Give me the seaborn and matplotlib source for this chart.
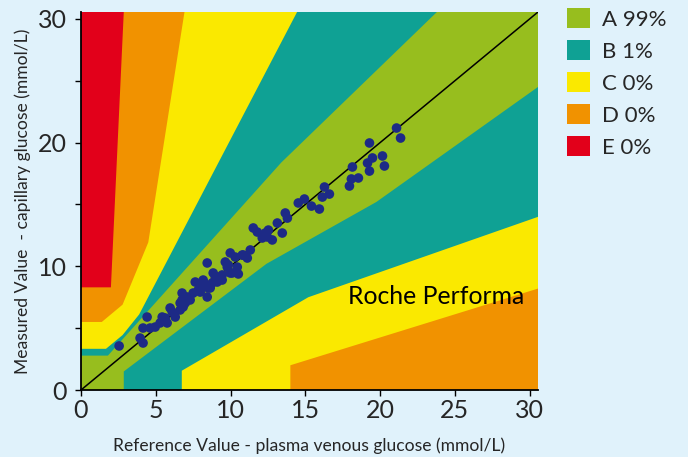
import numpy as np
import pandas as pd
import matplotlib
matplotlib.use("Agg")
import matplotlib.pyplot as plt
from matplotlib.patches import Patch
import seaborn as sns

# ---- data ----
LIM = 30.56  # axis maximum (mmol/L)

# zone boundaries (mmol/L); "None" y means top edge, "None" x means right edge
a_upper_x = [0, 1.8, 13.4, 23.8]
a_upper_y = [2.78, 2.78, 18.4, LIM]
a_lower_x = [2.86, 2.86, 12.4, 19.75, LIM]
a_lower_y = [0, 1.5, 10.2, 15.2, 24.5]
b_upper_x = [0, 1.67, 2.78, 3.89, 14.45]
b_upper_y = [3.33, 3.33, 4.44, 6.11, LIM]
b_lower_x = [6.74, 6.74, 15.2, LIM]
b_lower_y = [0, 1.56, 7.5, 14.0]
c_upper_x = [0, 1.39, 2.78, 4.5, 6.92]
c_upper_y = [5.5, 5.5, 6.9, 11.94, LIM]
c_lower_x = [14.0, 14.0, LIM]
c_lower_y = [0, 2.0, 8.2]
d_upper_x = [0, 2.0, 2.86]
d_upper_y = [8.3, 8.3, LIM]

zone_labels = ["A 99%", "B 1%", "C 0%", "D 0%", "E 0%"]
zone_colors = ["#97BE1E", "#0FA194", "#FAE900", "#F19200", "#E2001A"]

ref_values = [2.55, 3.95, 4.15, 4.15, 4.42, 4.62, 4.96, 5.29, 5.43, 5.63, 5.76, 6.10,
              6.30, 6.63, 6.76, 6.83, 6.97, 6.76, 7.10, 7.30, 7.64, 7.84, 8.10, 8.17,
              8.31, 8.44, 8.44, 8.64, 8.84, 9.11, 9.31, 9.44, 9.65, 9.78, 9.98, 9.98,
              10.31, 10.45, 10.52, 10.85, 11.12, 11.32, 11.52, 11.79, 12.12, 12.32,
              12.53, 12.46, 12.79, 13.13, 13.46, 13.66, 13.80, 14.53, 14.94, 15.41,
              15.94, 16.14, 16.28, 16.61, 17.95, 18.08, 18.55, 18.15, 19.16, 19.49,
              19.29, 19.29, 20.16, 20.29, 21.10, 21.37, 10.78, 9.85, 10.11, 9.44,
              9.18, 7.97, 8.51, 7.50, 6.63, 5.96, 8.77, 8.98]
meas_values = [3.56, 4.20, 3.80, 5.01, 5.90, 5.01, 5.09, 5.42, 5.90, 5.82, 5.42, 6.31,
               5.90, 6.47, 7.28, 6.71, 7.03, 7.84, 7.52, 7.28, 8.73, 8.08, 8.33, 8.89,
               8.49, 7.52, 10.27, 8.25, 9.46, 8.73, 9.14, 8.89, 10.35, 9.94, 11.08, 9.46,
               10.75, 9.94, 9.38, 10.91, 10.67, 11.32, 13.10, 12.77, 12.29, 12.69,
               12.93, 12.37, 12.13, 13.50, 12.69, 14.31, 13.90, 15.12, 15.44, 14.87,
               14.63, 15.60, 16.41, 15.84, 16.49, 17.06, 17.14, 18.03, 18.35, 18.76,
               17.70, 19.97, 18.92, 18.11, 21.18, 20.37, 10.91, 10.11, 9.46, 9.30,
               8.89, 7.92, 8.25, 7.84, 7.03, 6.63, 8.65, 9.05]

x_ticks = [0, 5, 10, 15, 20, 25, 30]
y_ticks = [0, 10, 20, 30]
y_minor = [5, 15, 25]

BG = "#E0F2FB"
DOT = "#1D2A86"

sns.set_style("ticks")
plt.rcParams["font.family"] = ["Lato", "DejaVu Sans"]

fig = plt.figure(figsize=(6.88, 4.57), dpi=100, facecolor=BG)
ax = fig.add_axes([81 / 688, 67 / 457, 457 / 688, 378 / 457])
ax.set_facecolor(zone_colors[3])


def band(ux, uy, lx, ly):
    up = list(zip(ux, uy))
    lo = list(zip(lx, ly))
    return [(0, 0)] + up + [(LIM, LIM)] + lo[::-1]


e_poly = list(zip(d_upper_x, d_upper_y)) + [(0, LIM)]
ax.add_patch(plt.Polygon(e_poly, closed=True, fc=zone_colors[4], ec="none", zorder=1))
ax.add_patch(plt.Polygon(band(c_upper_x, c_upper_y, c_lower_x, c_lower_y), closed=True,
                         fc=zone_colors[2], ec="none", zorder=2))
ax.add_patch(plt.Polygon(band(b_upper_x, b_upper_y, b_lower_x, b_lower_y), closed=True,
                         fc=zone_colors[1], ec="none", zorder=3))
ax.add_patch(plt.Polygon(band(a_upper_x, a_upper_y, a_lower_x, a_lower_y), closed=True,
                         fc=zone_colors[0], ec="none", zorder=4))

diag = pd.DataFrame({"x": [0, LIM], "y": [0, LIM]})
sns.lineplot(data=diag, x="x", y="y", color="black", lw=1.1, ax=ax, zorder=5)

df = pd.DataFrame({"ref": ref_values, "meas": meas_values})
sns.scatterplot(data=df, x="ref", y="meas", color=DOT, s=48, edgecolor="none",
                ax=ax, zorder=6)

ax.text(23.75, 7.55, "Roche Performa", ha="center", va="center", fontsize=17.8,
        color="black", zorder=7)

ax.set_xlim(0, LIM)
ax.set_ylim(0, LIM)
ax.set_xticks(x_ticks)
ax.set_yticks(y_ticks)
ax.set_yticks(y_minor, minor=True)
ax.tick_params(axis="both", which="both", direction="out", length=4.3, width=1,
               color="black", labelsize=18)
ax.tick_params(axis="x", pad=2)
ax.tick_params(axis="y", pad=6)
for s in ["top", "right"]:
    ax.spines[s].set_visible(False)
for s in ["left", "bottom"]:
    ax.spines[s].set_color("black")
    ax.spines[s].set_linewidth(1.3)
    ax.spines[s].set_zorder(8)

ax.set_xlabel("Reference Value - plasma venous glucose (mmol/L)", fontsize=12.6,
              labelpad=11)
ax.set_ylabel("Measured Value  - capillary glucose (mmol/L)", fontsize=12.6,
              labelpad=5)

handles = [Patch(fc=c, ec="none") for c in zone_colors]
fig.legend(handles, zone_labels, loc="upper left",
           bbox_to_anchor=(567 / 688, 1 - 8 / 457), frameon=False, fontsize=16,
           handlelength=1.03, handleheight=1.03, labelspacing=0.46, handletextpad=0.55,
           borderpad=0, borderaxespad=0)

fig.savefig("out.png", dpi=100, facecolor=BG)
